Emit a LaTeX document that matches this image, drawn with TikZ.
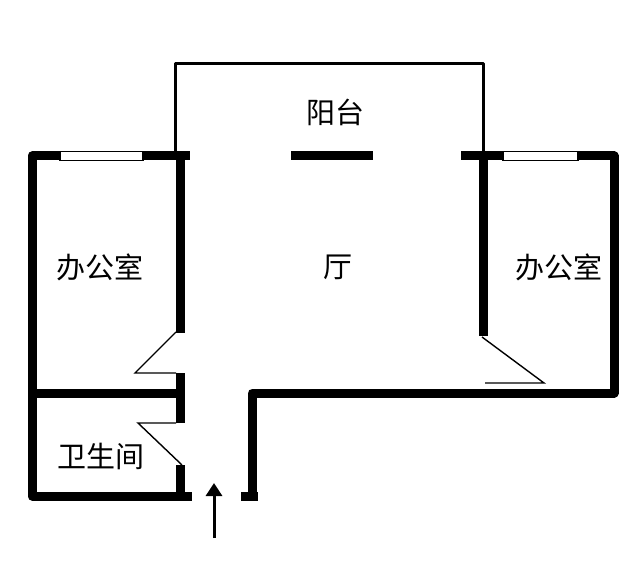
\documentclass[tikz,border=0pt]{standalone}
\usepackage{fontspec}
\setmainfont{Noto Sans CJK SC}
\usetikzlibrary{arrows.meta}
\begin{document}
\begin{tikzpicture}[x=1pt,y=-1pt,every node/.style={font=\fontsize{29}{30}\selectfont,inner sep=0pt},
wall/.style={line width=9pt,line join=round},rail/.style={line width=3pt,line join=round},leaf/.style={line width=1.4pt}]
\useasboundingbox (0,0) rectangle (640,561);
\node (balcony) at (335,112) {阳台};
\node (hall) at (338,267) {厅};
\node (officeL) at (100,267) {办公室};
\node (officeR) at (559,267) {办公室};
\node (toilet) at (100.5,456) {卫生间};
\draw[rail] (175.5,156) -- (175.5,64) -- (483,64) -- (483,156);
\draw[wall] (60,156) -- (32,156) -- (32,496) -- (192,496);
\draw[wall] (143,156) -- (190,156);
\draw[wall] (291,156) -- (373,156);
\draw[wall] (461,156) -- (503,156);
\draw[wall] (578,156) -- (614,156) -- (614,393) -- (252,393) -- (252,496);
\draw[wall] (241,496) -- (258,496);
\draw[wall] (32,393) -- (180,393);
\draw[wall] (180,156) -- (180,333);
\draw[wall] (180,373) -- (180,423);
\draw[wall] (180,465) -- (180,496);
\draw[wall] (483,156) -- (483,336);
\draw[leaf] (60,151.5) rectangle (143,160.5);
\draw[leaf] (503,151.5) rectangle (578,160.5);
\draw[leaf] (176,332) -- (135,373) -- (176,373);
\draw[leaf] (182,465) -- (138,423) -- (176,423);
\draw[leaf] (482,337) -- (544,383) -- (485,383);
\coordinate (entryA) at (214,538);
\coordinate (entryB) at (214,483);
\draw[-{Triangle[width=16pt,length=13pt]},line width=3pt] (entryA) -- (entryB);
\end{tikzpicture}
\end{document}
